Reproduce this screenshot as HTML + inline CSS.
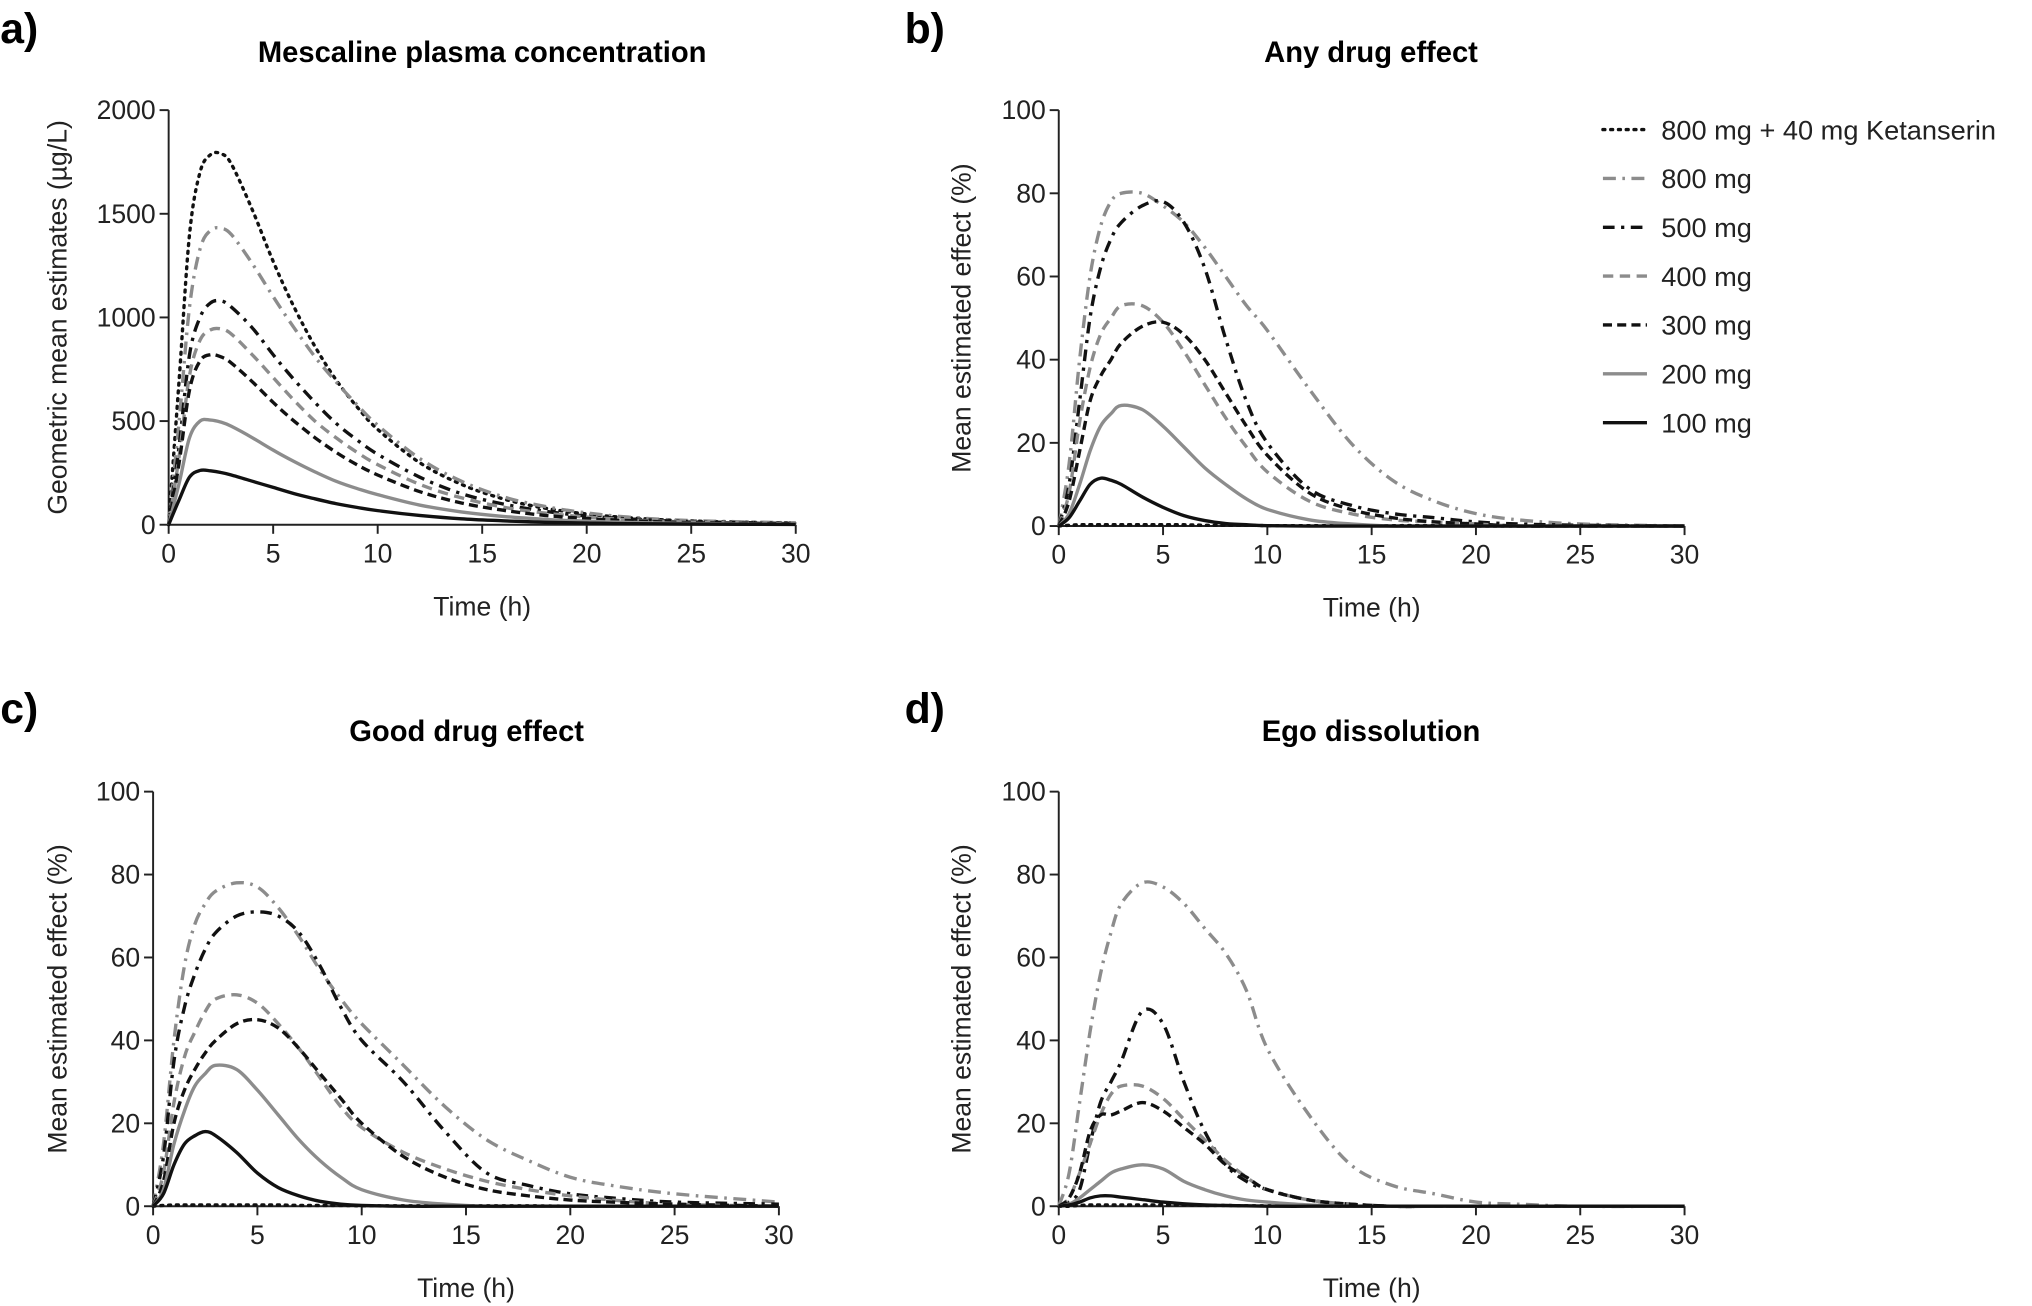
<!DOCTYPE html>
<html><head><meta charset="utf-8"><style>
html,body{margin:0;padding:0;background:#fff;}
svg{display:block;font-family:"Liberation Sans",Arial,sans-serif;}
</style></head><body>
<svg id="fig" width="2032" height="1306" viewBox="0 0 1568 1008" xmlns="http://www.w3.org/2000/svg"></svg>
<script>
const times = [0,0.5,1,1.5,2,2.5,3,4,5,6,7,8,9,10,12,14,16,18,20,22,25,30];
const seriesNames = ["800 mg + 40 mg Ketanserin","800 mg","500 mg","400 mg","300 mg","200 mg","100 mg"];
const plasmaKet = [0,700,1400,1700,1785,1790,1740,1520,1270,1050,860,700,570,460,300,195,125,80,52,34,18,8];
const plasma800 = [0,500,1050,1330,1420,1430,1400,1260,1100,950,810,690,580,480,320,210,135,88,57,37,20,9];
const plasma500 = [0,380,820,1000,1070,1080,1050,950,820,700,590,490,410,340,230,150,100,65,42,28,15,6];
const plasma400 = [0,330,720,890,940,945,920,820,710,600,500,420,350,290,195,130,85,56,37,24,13,5];
const plasma300 = [0,300,650,790,820,810,780,690,590,500,420,350,290,240,160,105,70,45,30,20,10,4];
const plasma200 = [0,200,420,500,505,495,475,420,360,305,255,210,175,145,95,62,40,26,17,11,6,2];
const plasma100 = [0,120,230,262,260,252,240,210,180,150,125,102,84,68,45,29,19,12,8,5,3,1];
const anyKet = [0,0.2,0.3,0.3,0.3,0.3,0.3,0.3,0.3,0.3,0.2,0.2,0.2,0.1,0.1,0.1,0.1,0.1,0,0,0,0];
const any800 = [0,15,40,60,72,78,80,80,77,73,67,60,53,47,33,20,11,6,3,1.5,0.5,0];
const any500 = [0,10,30,50,62,69,73,77,78,73,62,45,30,20,9,5,3,2,1,0.5,0.2,0];
const any400 = [0,8,25,38,46,50,53,53,49,42,34,26,19,13,6,3,1.5,1,0.5,0,0,0];
const any300 = [0,6,18,30,36,40,44,48,49,46,40,32,24,17,8,4,2,1,0.5,0,0,0];
const any200 = [0,3,10,18,24,27,29,28,24,19,14,10,6.5,4,1.5,0.5,0,0,0,0,0,0];
const any100 = [0,2,6,10,11.5,11,10,7,4.5,2.5,1.3,0.6,0.3,0.1,0,0,0,0,0,0,0,0];
const goodKet = [0,0.2,0.3,0.3,0.3,0.3,0.3,0.3,0.3,0.3,0.2,0.2,0.2,0.1,0.1,0.1,0.1,0.1,0,0,0,0];
const good800 = [0,15,40,58,68,73,76,78,77,72,65,57,50,44,34,24,16,11,7,5,3,1];
const good500 = [0,12,35,48,56,62,66,70,71,70,66,58,48,40,30,18,8,5,3,2,1,0.5];
const good400 = [0,8,25,36,42,47,50,51,49,44,38,31,24,19,13,9,6,4,2.5,1.5,0.5,0];
const good300 = [0,6,20,28,33,37,40,44,45,43,38,32,26,20,12,7,4,2.5,1.5,1,0.5,0];
const good200 = [0,4,15,23,29,32,34,33,28,22,16,11,7,4,1.5,0.5,0,0,0,0,0,0];
const good100 = [0,3,10,15,17,18,17,13,8,4.5,2.5,1.2,0.5,0.2,0,0,0,0,0,0,0,0];
const egoKet = [0,0,0.2,0.3,0.3,0.3,0.3,0.3,0.3,0.3,0.2,0.2,0.1,0.1,0.1,0,0,0,0,0,0,0];
const ego800 = [0,8,25,42,56,66,73,78,77,73,67,61,52,38,22,10,5,3,1,0.5,0,0];
const ego500 = [0,1,4,15,25,30,35,47,44,30,18,10,6,4,1.5,0.5,0,0,0,0,0,0];
const ego400 = [0,2,8,15,22,27,29,29,26,21,16,11,7,4,1.5,0.5,0,0,0,0,0,0];
const ego300 = [0,2,8,18,22,22,23,25,23,19,15,10,7,4,1.5,0.5,0,0,0,0,0,0];
const ego200 = [0,0.5,2,4,6,8,9,10,9,6,4,2.5,1.5,1,0.3,0,0,0,0,0,0,0];
const ego100 = [0,0.3,1,2,2.5,2.5,2.2,1.6,1,0.6,0.3,0.2,0.1,0,0,0,0,0,0,0,0,0];
const xTicks = [0,5,10,15,20,25,30];
const plasmaTicks = [0,500,1000,1500,2000];
const effectTicks = [0,20,40,60,80,100];

const styles = [
 {c:"#111",d:"1.5 4.5",cap:"round"},
 {c:"#8c8c8c",d:"10 5 2 5",cap:"butt"},
 {c:"#111",d:"9 5 2.5 5",cap:"butt"},
 {c:"#8c8c8c",d:"8 5",cap:"butt"},
 {c:"#111",d:"7 4",cap:"butt"},
 {c:"#8c8c8c",d:"",cap:"butt"},
 {c:"#111",d:"",cap:"butt"}
];
const NS="http://www.w3.org/2000/svg";
const svg=document.getElementById('fig');
function mk(tag,attrs,parent){const e=document.createElementNS(NS,tag);for(const k in attrs)e.setAttribute(k,attrs[k]);(parent||svg).appendChild(e);return e;}

function smoothPath(pts){
 let d="M"+pts[0][0].toFixed(1)+","+pts[0][1].toFixed(1);
 for(let i=0;i<pts.length-1;i++){
  const p0=pts[i-1]||pts[i],p1=pts[i],p2=pts[i+1],p3=pts[i+2]||p2;
  const c1=[p1[0]+(p2[0]-p0[0])/6,p1[1]+(p2[1]-p0[1])/6];
  const c2=[p2[0]-(p3[0]-p1[0])/6,p2[1]-(p3[1]-p1[1])/6];
  d+="C"+c1[0].toFixed(1)+","+c1[1].toFixed(1)+" "+c2[0].toFixed(1)+","+c2[1].toFixed(1)+" "+p2[0].toFixed(1)+","+p2[1].toFixed(1);
 }
 return d;
}

function panel(cfg){
 const g=mk('g',{});
 
 
 const xs=v=>cfg.x0+(v/30)*(cfg.x1-cfg.x0);
 const ys=v=>cfg.y0-(v/cfg.ymax)*(cfg.y0-cfg.y1);
 const lab=mk('text',{x:cfg.labX,y:cfg.labY,'font-size':33,'font-weight':'bold',fill:'#000'},g);lab.textContent=cfg.letter;
 
 const t=mk('text',{x:cfg.titleX,y:cfg.titleY,'font-size':22.5,'font-weight':'bold','text-anchor':'middle',fill:'#000'},g);t.textContent=cfg.title;
 
 const ax=mk('path',{d:`M${cfg.x0},${cfg.y1}V${cfg.y0}H${cfg.x1}`,stroke:'#222',fill:'none','stroke-width':1.5},g);
 
 xTicks.forEach(v=>{
  mk('line',{x1:xs(v),x2:xs(v),y1:cfg.y0,y2:cfg.y0+7,stroke:'#222','stroke-width':1.5},g);
  const tx=mk('text',{x:xs(v),y:cfg.y0+29,'font-size':20.5,'text-anchor':'middle',fill:'#222'},g);tx.textContent=v;
  
 });
 cfg.yt.forEach(v=>{
  mk('line',{x1:cfg.x0-7,x2:cfg.x0,y1:ys(v),y2:ys(v),stroke:'#222','stroke-width':1.5},g);
  const ty=mk('text',{x:cfg.x0-10,y:ys(v)+7,'font-size':20.5,'text-anchor':'end',fill:'#222'},g);ty.textContent=v;
  
 });
 const xl=mk('text',{x:(cfg.x0+cfg.x1)/2,y:cfg.y0+70,'font-size':20.5,'text-anchor':'middle',fill:'#222'},g);xl.textContent="Time (h)";
 
 const yc=(cfg.y0+cfg.y1)/2;
 const yl=mk('text',{x:cfg.ytx,y:yc,'font-size':20.5,'text-anchor':'middle',fill:'#222',transform:`rotate(-90 ${cfg.ytx} ${yc})`},g);yl.textContent=cfg.ytitle;
 
 cfg.series.forEach((vals,i)=>{
  const pts=times.map((tt,k)=>[xs(tt),ys(vals[k])]);
  const s=styles[i];
  const p=mk('path',{d:smoothPath(pts),fill:'none',stroke:s.c,'stroke-width':2.6,'stroke-dasharray':s.d,'stroke-linecap':s.cap,'stroke-linejoin':'round'},g);
  
  
 });
}

panel({name:'panel-a-plasma',letter:'a)',labX:0,labY:33,title:'Mescaline plasma concentration',titleX:372,titleY:48,x0:130,x1:614,y0:405,y1:85,ymax:2000,yt:plasmaTicks,ytx:51,ytitle:'Geometric mean estimates (µg/L)',series:[plasmaKet,plasma800,plasma500,plasma400,plasma300,plasma200,plasma100]});
panel({name:'panel-b-any-drug-effect',letter:'b)',labX:698,labY:33,title:'Any drug effect',titleX:1058,titleY:48,x0:817,x1:1300,y0:406,y1:85,ymax:100,yt:effectTicks,ytx:749,ytitle:'Mean estimated effect (%)',series:[anyKet,any800,any500,any400,any300,any200,any100]});
panel({name:'panel-c-good-drug-effect',letter:'c)',labX:0,labY:558,title:'Good drug effect',titleX:360,titleY:572,x0:118,x1:601,y0:931,y1:611,ymax:100,yt:effectTicks,ytx:51,ytitle:'Mean estimated effect (%)',series:[goodKet,good800,good500,good400,good300,good200,good100]});
panel({name:'panel-d-ego-dissolution',letter:'d)',labX:698,labY:558,title:'Ego dissolution',titleX:1058,titleY:572,x0:817,x1:1300,y0:931,y1:611,ymax:100,yt:effectTicks,ytx:749,ytitle:'Mean estimated effect (%)',series:[egoKet,ego800,ego500,ego400,ego300,ego200,ego100]});

const lg=mk('g',{});


seriesNames.forEach((n,i)=>{
 const y=100+i*37.7;
 const s=styles[i];
 mk('line',{x1:1237,x2:1271,y1:y,y2:y,stroke:s.c,'stroke-width':2.6,'stroke-dasharray':s.d,'stroke-linecap':s.cap},lg);
 const t=mk('text',{x:1282,y:y+7.5,'font-size':21,fill:'#222'},lg);t.textContent=n;
 
 
});
</script>
</body></html>
